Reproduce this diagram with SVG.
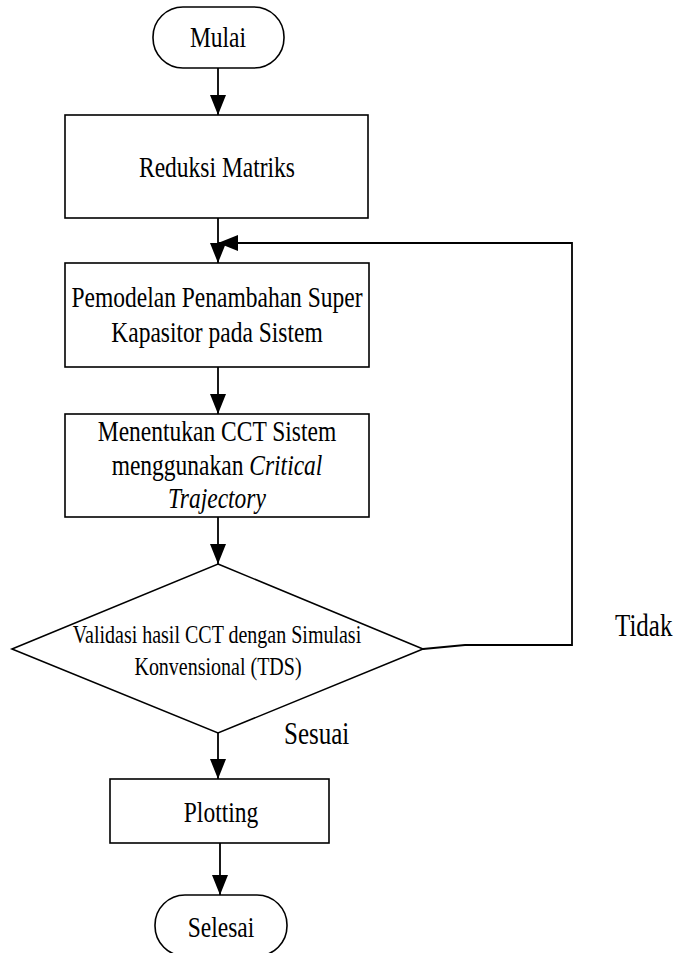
<svg xmlns="http://www.w3.org/2000/svg" width="684" height="953" viewBox="0 0 684 953">
<defs>
<marker id="arr" markerWidth="20" markerHeight="16" refX="20" refY="8" orient="auto" markerUnits="userSpaceOnUse" viewBox="0 0 20 16">
<path d="M0,0 L20,8 L0,16 Z" fill="#000"/>
</marker>
</defs>
<style>
.s{fill:#fff;stroke:#000;stroke-width:1.6}
.c{fill:none;stroke:#000;stroke-width:1.8}
.t{font-family:"Liberation Serif","Times New Roman",serif;font-size:23.5px;fill:#000;text-anchor:middle}
.d{font-size:20px}
.l{font-size:25px;text-anchor:start}
</style>
<rect width="684" height="953" fill="#fff"/>
<g id="connectors">
<line class="c" x1="218" y1="68" x2="218" y2="115" marker-end="url(#arr)"/>
<line class="c" x1="218" y1="218" x2="218" y2="263" marker-end="url(#arr)"/>
<line class="c" x1="218" y1="367" x2="218" y2="414" marker-end="url(#arr)"/>
<line class="c" x1="218" y1="517" x2="218" y2="564" marker-end="url(#arr)"/>
<line class="c" x1="218" y1="733" x2="218" y2="779" marker-end="url(#arr)"/>
<line class="c" x1="220" y1="843" x2="220" y2="895" marker-end="url(#arr)"/>
<polyline class="c" points="423,649 465,645 572,645 572,243 218,243" marker-end="url(#arr)"/>
</g>
<g id="mulai">
<rect class="s" x="153" y="7" width="131" height="61" rx="30" ry="30"/>
<text class="t" transform="translate(218,47) scale(1,1.22)">Mulai</text>
</g>
<g id="reduksi">
<rect class="s" x="65" y="115" width="303" height="103"/>
<text class="t" transform="translate(217,177) scale(1,1.22)">Reduksi Matriks</text>
</g>
<g id="pemodelan">
<rect class="s" x="65" y="263" width="304" height="104"/>
<text class="t" transform="translate(217,307) scale(1,1.22)">Pemodelan Penambahan Super</text>
<text class="t" transform="translate(217,342) scale(1,1.22)">Kapasitor pada Sistem</text>
</g>
<g id="menentukan">
<rect class="s" x="65" y="414" width="304" height="103"/>
<text class="t" transform="translate(217,441) scale(1,1.22)">Menentukan CCT Sistem</text>
<text class="t" transform="translate(217,475) scale(1,1.22)">menggunakan <tspan font-style="italic">Critical</tspan></text>
<text class="t" transform="translate(217,508) scale(1,1.22)" font-style="italic">Trajectory</text>
</g>
<g id="validasi">
<polygon class="s" points="218,564 423,649 218,733 12,649"/>
<text class="t d" transform="translate(217,643) scale(1,1.22)">Validasi hasil CCT dengan Simulasi</text>
<text class="t d" transform="translate(218,675) scale(1,1.22)">Konvensional (TDS)</text>
</g>
<g id="plotting">
<rect class="s" x="110" y="779" width="219" height="64"/>
<text class="t" transform="translate(221,822) scale(1,1.25)">Plotting</text>
</g>
<g id="selesai">
<rect class="s" x="155" y="895" width="132" height="61" rx="30" ry="30"/>
<text class="t" transform="translate(221,937) scale(1,1.22)">Selesai</text>
</g>
<g id="labels">
<text class="t l" transform="translate(615,636) scale(1,1.27)">Tidak</text>
<text class="t l" transform="translate(284,744) scale(1,1.27)">Sesuai</text>
</g>
</svg>
